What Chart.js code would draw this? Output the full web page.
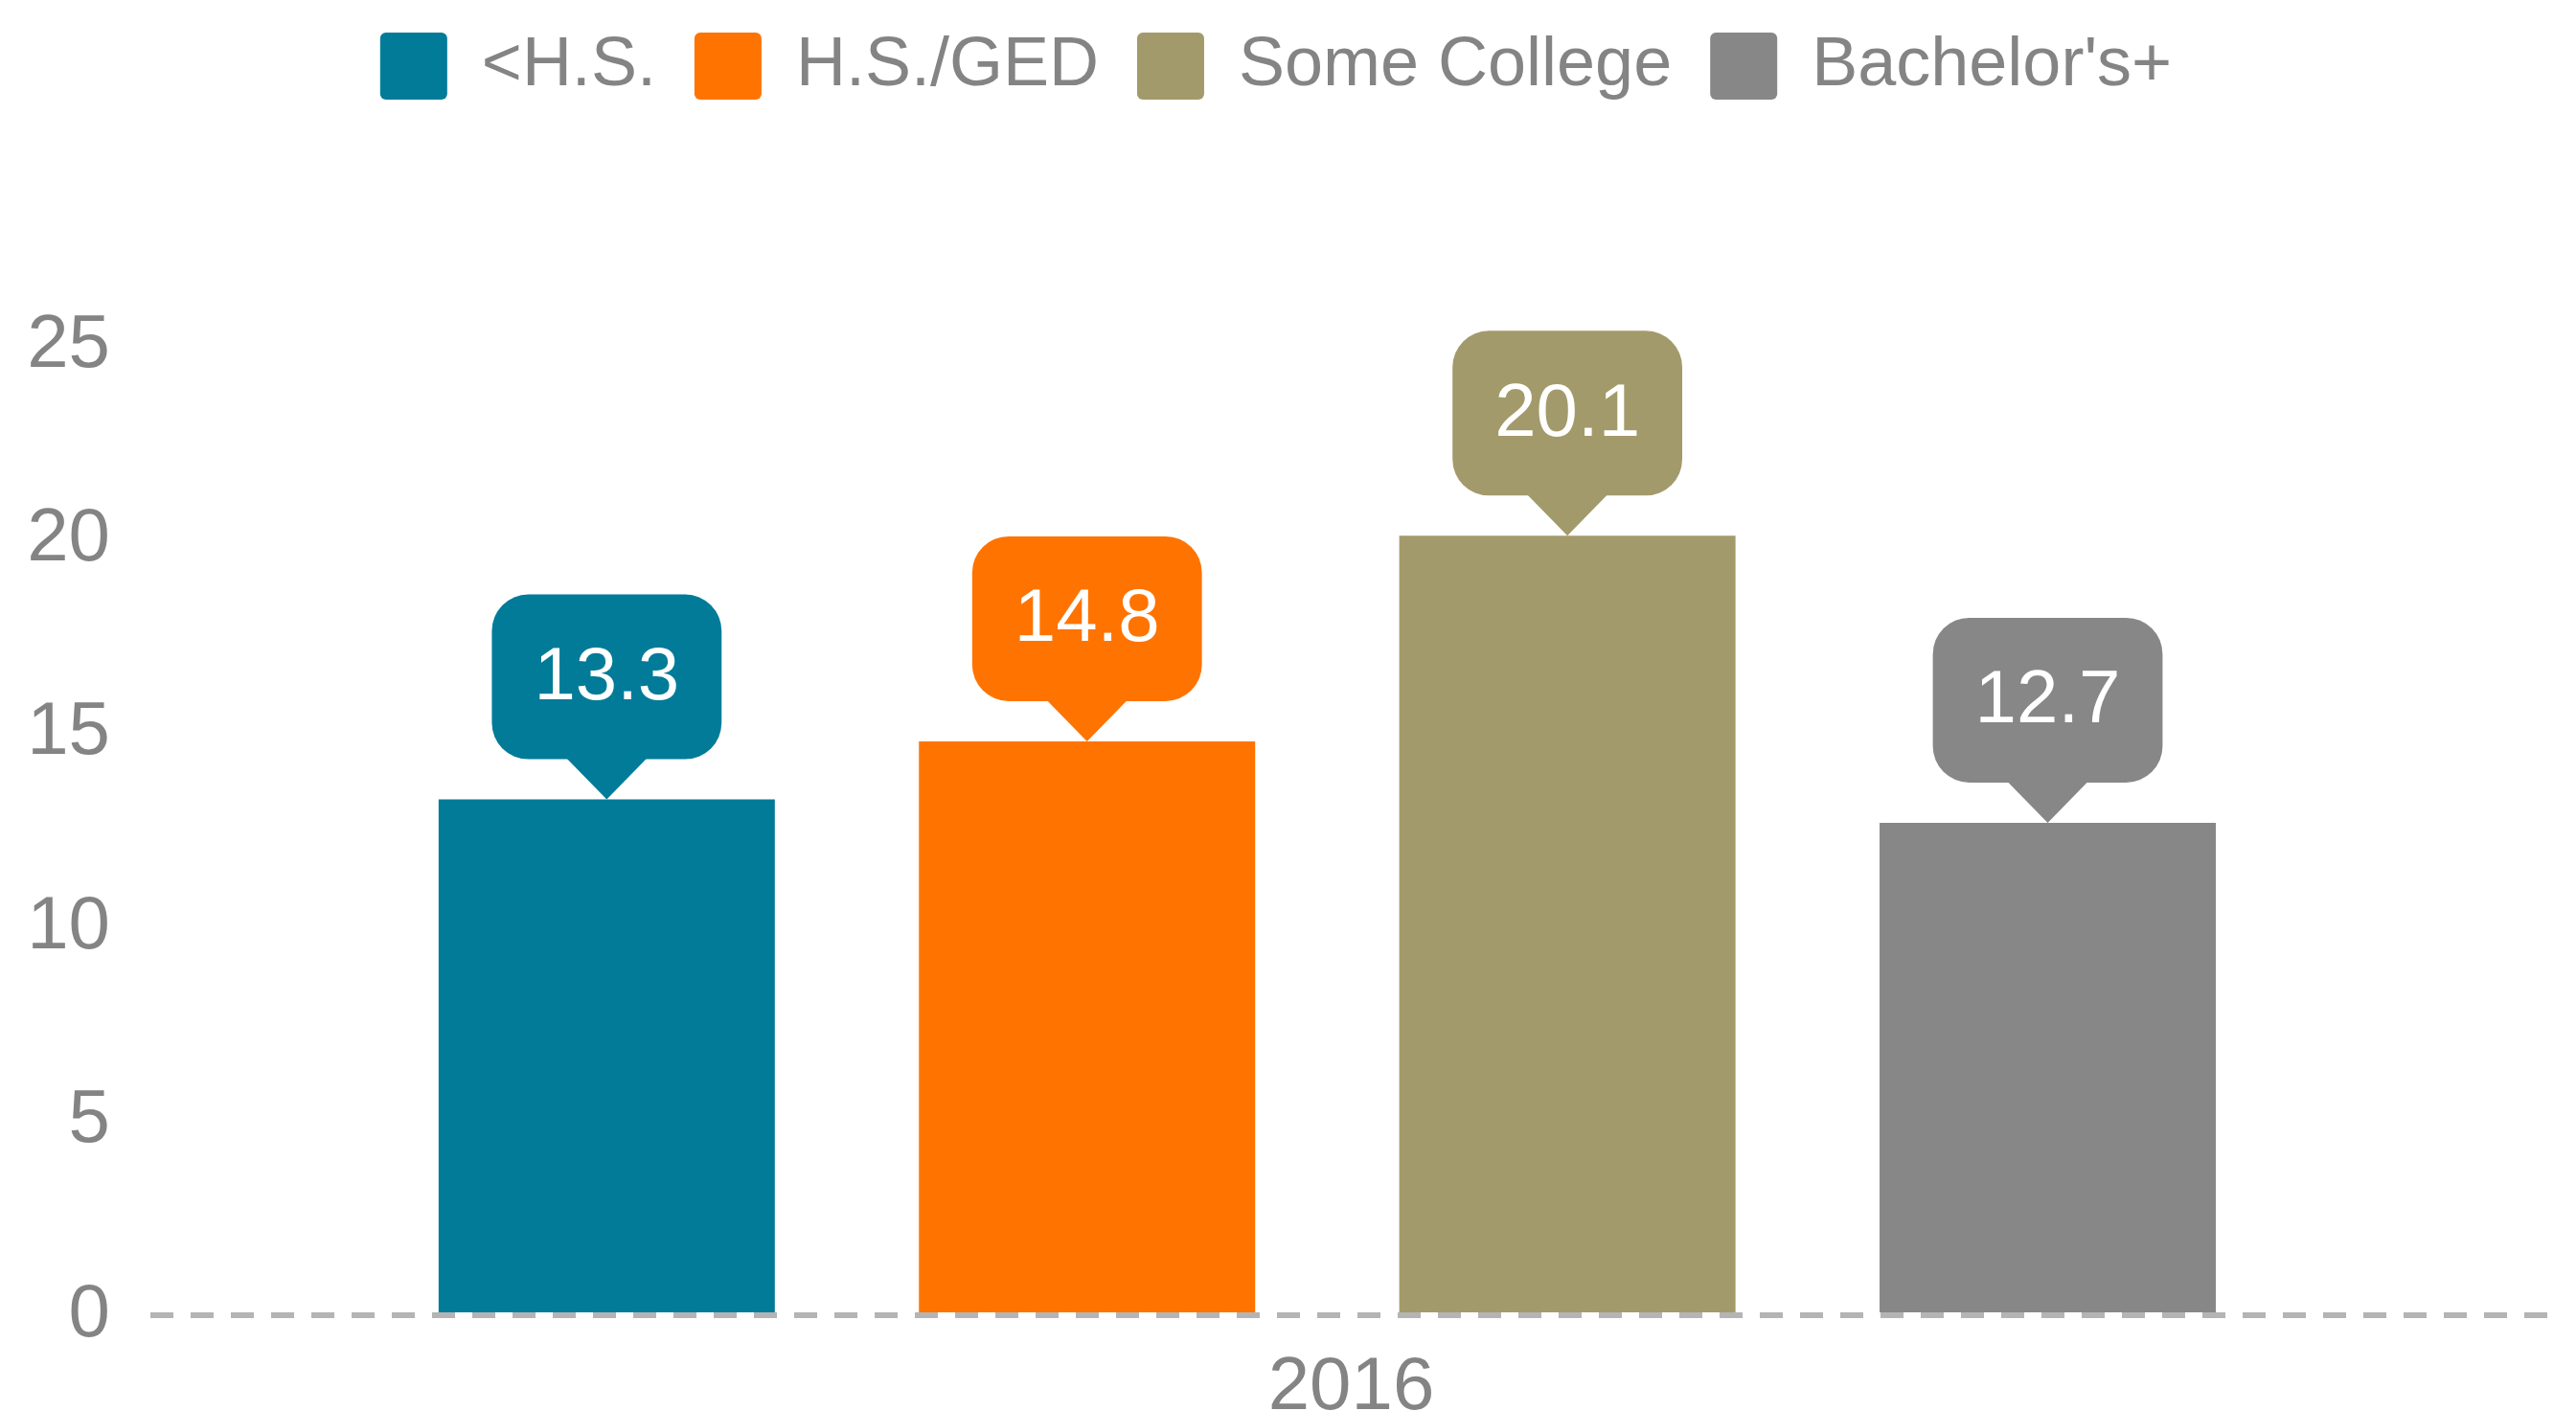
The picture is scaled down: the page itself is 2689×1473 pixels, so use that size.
<!DOCTYPE html>
<html>
<head>
<meta charset="utf-8">
<script src="https://cdn.jsdelivr.net/npm/chart.js@4.4.1/dist/chart.umd.min.js"></script>
<style>
  html, body { margin: 0; padding: 0; background: #fff; }
  #wrap { width: 2689px; height: 1473px; }
</style>
</head>
<body>
<div id="wrap"><canvas id="chart"></canvas></div>
<script>
// data
const years = ["2016"];
const seriesNames = ["<H.S.", "H.S./GED", "Some College", "Bachelor's+"];
const seriesColors = ["#027b99", "#ff7300", "#a39a6b", "#878787"];
const lessThanHS = [13.3];
const hsGed = [14.8];
const someCollege = [20.1];
const bachelorsPlus = [12.7];
const yTicks = [0, 5, 10, 15, 20, 25];

const seriesValues = [lessThanHS, hsGed, someCollege, bachelorsPlus];

const FONT = "'Liberation Sans', Arial, Helvetica, sans-serif";
const GREY = "#848484";
const LAYOUT_TOP = -7;
const PLOT_TOP = 361;

// legend takes up all the room above the plot
const legendSpacer = {
	id: "legendSpacer",
	beforeLayout(chart) {
		const legend = chart.legend;
		if (!legend || legend._spaced) return;
		const fit = legend.fit;
		legend.fit = function () {
			fit.call(this);
			this.height = PLOT_TOP - LAYOUT_TOP;
		};
		legend._spaced = true;
	},
};

// value bubbles above the bars
const calloutPlugin = {
	id: "callouts",
	afterDatasetsDraw(chart) {
		const ctx = chart.ctx;
		const tip = 42;
		const boxH = 172;
		const radius = 38;
		ctx.save();
		ctx.font = "78px " + FONT;
		ctx.textAlign = "center";
		ctx.textBaseline = "middle";
		chart.data.datasets.forEach((ds, i) => {
			const meta = chart.getDatasetMeta(i);
			meta.data.forEach((bar, j) => {
				const text = ds.data[j].y.toFixed(1);
				const boxW = ctx.measureText(text).width + 88;
				const x = bar.x;
				const y = bar.y;
				const bottom = y - tip;
				const top = bottom - boxH;

				ctx.fillStyle = ds.backgroundColor;
				ctx.beginPath();
				ctx.roundRect(x - boxW / 2, top, boxW, boxH, radius);
				ctx.fill();

				ctx.beginPath();
				ctx.moveTo(x - tip, bottom - 1);
				ctx.lineTo(x + tip, bottom - 1);
				ctx.lineTo(x, y);
				ctx.closePath();
				ctx.fill();

				ctx.fillStyle = "#ffffff";
				ctx.fillText(text, x, top + boxH / 2 + 2);
			});
		});
		ctx.restore();
	},
};

const datasets = seriesNames.map((name, i) => ({
	label: name,
	data: years.map((yr, j) => ({ x: Number(yr), y: seriesValues[i][j] })),
	backgroundColor: seriesColors[i],
	borderWidth: 0,
	xAxisID: "xb",
	barPercentage: 0.7,
	categoryPercentage: 0.8,
}));

new Chart(document.getElementById("chart"), {
	type: "bar",
	data: {
		labels: years,
		datasets: datasets,
	},
	options: {
		responsive: true,
		maintainAspectRatio: false,
		animation: false,
		layout: {
			padding: { top: LAYOUT_TOP, right: 25, bottom: 0, left: 0 },
		},
		plugins: {
			legend: {
				position: "top",
				labels: {
					boxWidth: 70,
					boxHeight: 70,
					useBorderRadius: true,
					borderRadius: 6,
					padding: 40,
					color: GREY,
					font: { family: FONT, size: 72 },
				},
			},
			tooltip: { enabled: false },
		},
		scales: {
			x: {
				type: "category",
				offset: true,
				grid: { display: false, drawTicks: false },
				border: { display: false },
				ticks: {
					color: GREY,
					font: { family: FONT, size: 78 },
					padding: 30,
				},
				afterFit(axis) {
					axis.height = 100;
				},
			},
			// bars sit a little left of the category centre, as in the original
			xb: {
				type: "linear",
				display: false,
				offset: false,
				min: Number(years[0]) - 0.49,
				max: Number(years[0]) + 0.51,
				afterBuildTicks(axis) {
					axis.ticks = years.map((yr) => ({ value: Number(yr) }));
				},
			},
			y: {
				min: 0,
				max: 25,
				afterBuildTicks(axis) {
					axis.ticks = yTicks.map((v) => ({ value: v }));
				},
				grid: {
					color: (c) => (c.tick && c.tick.value === 0 ? "#b4b4b4" : "rgba(0,0,0,0)"),
					lineWidth: 6,
					drawTicks: false,
				},
				border: { display: false, dash: [24, 18] },
				ticks: {
					color: GREY,
					font: { family: FONT, size: 78 },
					padding: 42,
				},
				afterFit(axis) {
					axis.width = 157;
				},
			},
		},
	},
	plugins: [legendSpacer, calloutPlugin],
});
</script>
</body>
</html>
